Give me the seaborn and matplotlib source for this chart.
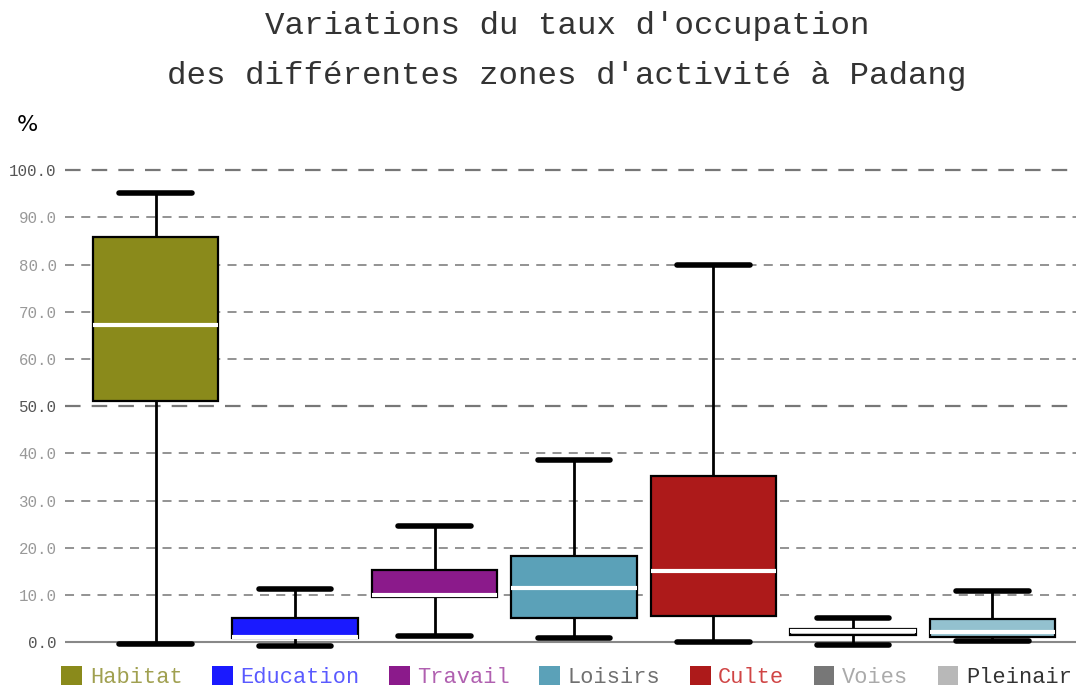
import numpy as np
import pandas as pd
import matplotlib
matplotlib.use("Agg")
import matplotlib.pyplot as plt
from matplotlib.patches import Patch
import seaborn as sns

# Five-number summaries (min, Q1, median, Q3, max) of occupation rate, in %
zones = ["Habitat", "Education", "Travail", "Loisirs", "Culte", "Voies", "Pleinair"]
habitat = [-0.5, 51.0, 67.2, 85.9, 95.1]
education = [-0.8, 0.8, 1.1, 5.0, 11.2]
travail = [1.3, 9.5, 10.0, 15.3, 24.7]
loisirs = [0.8, 5.0, 11.5, 18.3, 38.6]
culte = [0.0, 5.6, 15.0, 35.2, 80.0]
voies = [-0.7, 1.5, 2.3, 2.8, 5.2]
pleinair = [0.2, 1.1, 2.1, 4.9, 10.9]

box_colors = ["#8a8a1b", "#1a1aff", "#8b1a8b", "#5ba1b8", "#ad1a1a", "#d0d0d0", "#93c1cf"]
legend_colors = ["#8a8a1b", "#1a1aff", "#8b1a8b", "#5ba1b8", "#ad1a1a", "#777777", "#b8b8b8"]
legend_text_colors = ["#a0a050", "#5a5aff", "#b060b0", "#707070", "#d04545", "#aaaaaa", "#333333"]

y_ticks = np.arange(0, 101, 10)
y_major = [0, 50, 100]

summaries = [habitat, education, travail, loisirs, culte, voies, pleinair]
df = pd.DataFrame({
    "zone": np.repeat(zones, 5),
    "taux": np.concatenate(summaries),
})

sns.set_theme(style="white")
plt.rcParams["font.family"] = ["Liberation Mono", "DejaVu Sans"]

fig = plt.figure(figsize=(10.76, 6.88), dpi=100)
ax = fig.add_axes([0.0604, 0.053, 0.9396, 0.734])

# With five points per group, linear quantiles land on Q1/median/Q3 exactly,
# and whis=(0, 100) puts the whisker ends on min and max.
sns.boxplot(
    data=df, x="zone", y="taux", hue="zone", order=zones, hue_order=zones,
    palette=box_colors, saturation=1, whis=(0, 100), showfliers=False,
    width=0.9, linecolor="black", linewidth=1.6, legend=False, ax=ax,
    medianprops=dict(color="white", linewidth=3.0),
    whiskerprops=dict(color="black", linewidth=2.0),
    capprops=dict(color="black", linewidth=4.0, solid_capstyle="round"),
    capwidths=0.52,
)

ax.set_xlim(-0.65, 6.6)
ax.set_ylim(-2, 105)
ax.set_xlabel("")
ax.set_ylabel("")
ax.set_xticks([])
for s in ax.spines.values():
    s.set_visible(False)

# Horizontal guides: solid base line, heavier dashes at 50 and 100
for v in y_ticks:
    if v == 0:
        ax.axhline(v, color="#888888", lw=1.5, zorder=0.5)
    elif v in y_major:
        ax.axhline(v, color="#777777", lw=1.6, ls=(0, (7, 5)), zorder=0.5)
    else:
        ax.axhline(v, color="#8a8a8a", lw=1.3, ls=(0, (5, 4)), zorder=0.5)

ax.set_yticks(y_ticks)
ax.set_yticklabels([f"{v:.1f}" for v in y_ticks], fontsize=11.3)
ax.tick_params(axis="y", length=0, pad=6)
for v, lab in zip(y_ticks, ax.get_yticklabels()):
    lab.set_color("#555555" if v in y_major else "#999999")

fig.text(0.527, 0.926,
         "Variations du taux d'occupation\ndes différentes zones d'activité à Padang",
         ha="center", va="center", fontsize=23.4, color="#333333", linespacing=1.85)
fig.text(0.025, 1 - 125 / 688, "%", ha="center", va="center", fontsize=16,
         family="DejaVu Sans", color="black")

handles = [Patch(facecolor=c, edgecolor="none") for c in legend_colors]
fig.legend(handles, zones, loc="center left", bbox_to_anchor=(0.057, 1 - 677 / 688),
           ncol=7, frameon=False, fontsize=15.8, labelcolor=legend_text_colors,
           handlelength=0.95, handleheight=0.95, handletextpad=0.35,
           columnspacing=1.33, borderpad=0, borderaxespad=0)

fig.savefig("out.png", dpi=100)
